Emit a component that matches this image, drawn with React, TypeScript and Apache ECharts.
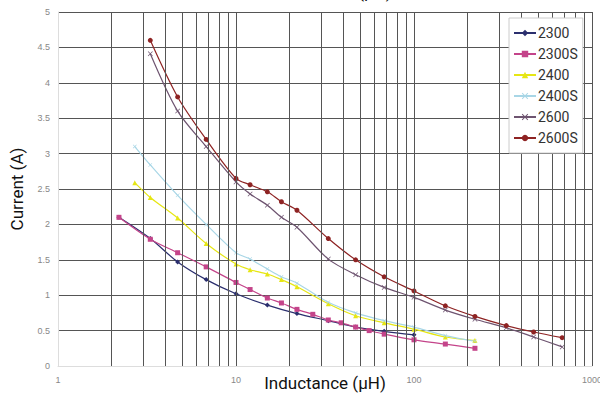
import React, { useEffect, useRef } from "react";
import * as echarts from "echarts";

const seriesNames = ["2300", "2300S", "2400", "2400S", "2600", "2600S"];
const colors = ["#2b2f6e", "#c4448a", "#e6e614", "#a8d6e6", "#6e5470", "#8e2323"];

const x2300 = [2.2, 3.3, 4.7, 6.8, 10, 15, 22, 33, 47, 68, 100];
const y2300 = [2.1, 1.8, 1.47, 1.22, 1.02, 0.86, 0.74, 0.64, 0.55, 0.49, 0.44];

const x2300S = [2.2, 3.3, 4.7, 6.8, 10, 12, 15, 18, 22, 27, 33, 39, 47, 56, 68, 100, 150, 220];
const y2300S = [2.1, 1.79, 1.6, 1.4, 1.18, 1.08, 0.96, 0.89, 0.8, 0.73, 0.65, 0.61, 0.55, 0.5, 0.45, 0.37, 0.31, 0.25];

const x2400 = [2.7, 3.3, 4.7, 6.8, 10, 12, 15, 18, 22, 33, 47, 68, 100, 150, 220];
const y2400 = [2.59, 2.38, 2.09, 1.73, 1.44, 1.36, 1.3, 1.22, 1.12, 0.88, 0.71, 0.61, 0.52, 0.41, 0.36];

const x2400S = [2.7, 3.3, 4.7, 6.8, 10, 12, 15, 18, 22, 33, 47, 68, 100, 150, 220];
const y2400S = [3.1, 2.84, 2.41, 2.0, 1.6, 1.51, 1.37, 1.26, 1.17, 0.9, 0.75, 0.64, 0.55, 0.43, 0.35];

const x2600 = [3.3, 4.7, 6.8, 10, 12, 15, 18, 22, 33, 47, 68, 100, 150, 220, 330, 470, 680];
const y2600 = [4.41, 3.6, 3.1, 2.6, 2.43, 2.27, 2.1, 1.96, 1.51, 1.29, 1.11, 0.97, 0.79, 0.66, 0.54, 0.41, 0.27];

const x2600S = [3.3, 4.7, 6.8, 10, 12, 15, 18, 22, 33, 47, 68, 100, 150, 220, 330, 470, 680];
const y2600S = [4.6, 3.8, 3.2, 2.65, 2.56, 2.46, 2.32, 2.2, 1.8, 1.5, 1.26, 1.06, 0.85, 0.7, 0.57, 0.48, 0.4];

const gridXValues = [
  2, 3, 4, 5, 6, 7, 8, 9, 10,
  20, 30, 40, 50, 60, 70, 80, 90, 100,
  200, 300, 400, 500, 600, 700, 800, 900, 1000,
];

const X_SYMBOL = "path://M0,1L1,0L5,4L9,0L10,1L6,5L10,9L9,10L5,6L1,10L0,9L4,5Z";
const symbols = ["diamond", "rect", "triangle", X_SYMBOL, X_SYMBOL, "circle"];
const symbolSizes = [5, 5, 5, 4, 5, 5];

const FONT = "Roboto, 'Liberation Sans', sans-serif";

function pairs(xs: number[], ys: number[]) {
  return xs.map((x, i) => [x, ys[i]]);
}

export default function App() {
  const ref = useRef<HTMLDivElement>(null);
  useEffect(() => {
    if (!ref.current) return;
    const chart = echarts.init(ref.current, null, { renderer: "svg" });
    const data = [
      pairs(x2300, y2300),
      pairs(x2300S, y2300S),
      pairs(x2400, y2400),
      pairs(x2400S, y2400S),
      pairs(x2600, y2600),
      pairs(x2600S, y2600S),
    ];
    const lineSeries = seriesNames.map((name, i) => ({
      name,
      type: "line",
      data: data[i],
      smooth: 0.3,
      symbol: symbols[i],
      symbolSize: symbolSizes[i],
      showSymbol: true,
      z: 3,
      lineStyle: { color: colors[i], width: 1.2 },
      itemStyle: { color: colors[i] },
    }));
    const option: any = {
      animation: false,
      textStyle: { fontFamily: FONT },
      grid: { left: 58, right: 8, top: 12, bottom: 28, outerBoundsMode: "none", containLabel: false },
      legend: {
        data: seriesNames,
        orient: "vertical",
        left: 509,
        top: 18,
        itemWidth: 22,
        itemHeight: 8,
        itemGap: 7,
        padding: [8, 5, 8, 4],
        backgroundColor: "#ffffff",
        borderColor: "#cccccc",
        borderWidth: 1,
        textStyle: { fontFamily: FONT, fontSize: 14, color: "#333", padding: [0, 0, 0, -3] },
        z: 10,
      },
      xAxis: {
        type: "log",
        logBase: 10,
        min: 1,
        max: 1000,
        name: "Inductance (μH)",
        nameLocation: "middle",
        nameGap: 8,
        nameMoveOverlap: false,
        nameTextStyle: { fontFamily: FONT, fontSize: 17, color: "#111", verticalAlign: "top" },
        axisLine: { show: true, lineStyle: { color: "#dddddd" } },
        axisTick: { show: false },
        axisLabel: {
          fontSize: 9,
          color: "#888",
          margin: 9,
          fontFamily: "'Liberation Sans', sans-serif",
          formatter: (v: number) => String(Math.round(v)),
        },
        splitLine: { show: false },
      },
      yAxis: {
        type: "value",
        min: 0,
        max: 5,
        interval: 0.5,
        name: "Current (A)",
        nameLocation: "middle",
        nameGap: 33,
        nameMoveOverlap: false,
        nameTextStyle: { fontFamily: FONT, fontSize: 17, color: "#111" },
        axisLine: { show: true, lineStyle: { color: "#dddddd" } },
        axisTick: { show: false },
        axisLabel: { fontSize: 9, color: "#888", margin: 8, fontFamily: "'Liberation Sans', sans-serif" },
        splitLine: { show: true, showMinLine: false, lineStyle: { color: "#555", width: 1 } },
      },
      graphic: [
        {
          type: "text",
          left: 270,
          top: -17,
          style: { text: "Inductance (μH)", fontFamily: FONT, fontSize: 17, fill: "#111" },
        },
      ],
      series: [
        {
          name: "grid-lines",
          type: "line",
          data: [],
          silent: true,
          z: 1,
          markLine: {
            silent: true,
            symbol: "none",
            label: { show: false },
            lineStyle: { color: "#555", width: 1, type: "solid" },
            data: gridXValues.map((v) => ({ xAxis: v })),
          },
        },
        ...lineSeries,
      ],
    };
    chart.setOption(option);
    return () => chart.dispose();
  }, []);
  return (
    <div
      ref={ref}
      style={{ position: "fixed", left: 0, top: 0, width: 600, height: 394, background: "#fff" }}
    />
  );
}
